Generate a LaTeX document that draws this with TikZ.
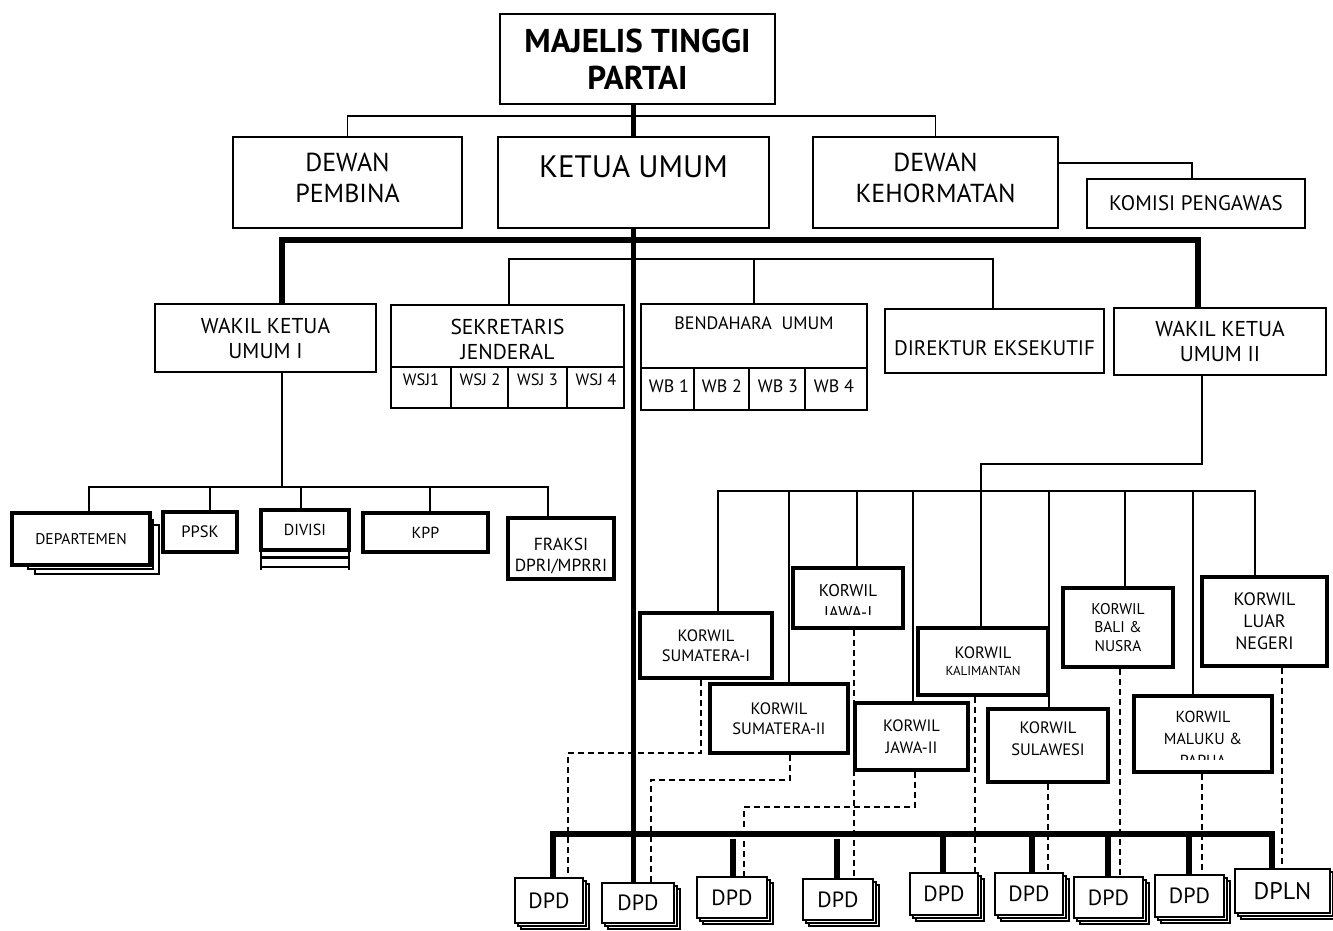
\documentclass[tikz,border=0pt]{standalone}
\usepackage{fontspec}
\setmainfont{PT Sans}
\usetikzlibrary{shadows}
\newcommand{\fs}[2]{\fontsize{#1}{#2}\selectfont}

\tikzset{
  box/.style={draw, line width=1.8pt, fill=white, align=center, inner sep=0pt},
  hbox/.style={draw, line width=4pt, fill=white, align=center, inner sep=0pt},
  link/.style={line width=1.5pt},
  heavy/.style={line width=5.5pt},
  dashlink/.style={line width=1.5pt, dash pattern=on 6pt off 4pt},
  dpd/.style={draw, line width=1.3pt, fill=white, inner sep=0pt, font=\fs{22}{24},
    double copy shadow={shadow xshift=3pt, shadow yshift=-3pt}},
}

\begin{document}
\begin{tikzpicture}[x=1pt, y=-1pt]
\fill[white] (0,0) rectangle (1333,931);
\useasboundingbox (0,0) rectangle (1333,931);

% top level
\node[box, minimum width=275, minimum height=90, font=\bfseries\fs{33}{37}] (mtp) at (637.5,59) {MAJELIS TINGGI\\PARTAI};
\node[box, minimum width=229, minimum height=91] (dp) at (347.5,182.5) {};
\node[font=\fs{26}{31}, align=center] (dptxt) at (347.5,178) {DEWAN\\PEMBINA};
\node[box, minimum width=271, minimum height=91] (ku) at (633.5,182.5) {};
\node[font=\fs{31}{36}] (kutxt) at (633.5,167) {KETUA UMUM};
\node[box, minimum width=245, minimum height=91] (dk) at (935.5,182.5) {};
\node[font=\fs{26}{31}, align=center] (dktxt) at (935.5,178) {DEWAN\\KEHORMATAN};
\node[box, minimum width=218, minimum height=49, font=\fs{21}{24}] (kp) at (1196,203.5) {KOMISI PENGAWAS};

% second level
\node[box, minimum width=221, minimum height=68, font=\fs{21.5}{25}] (wk1) at (265.5,338) {WAKIL KETUA\\UMUM I};
\node[box, minimum width=233, minimum height=103] (sek) at (507.5,356.5) {};
\node[font=\fs{21.5}{25}, align=center] (sektxt) at (507.5,339) {SEKRETARIS\\JENDERAL};
\draw[link] (sek.west |- 0,367) -- (sek.east |- 0,367);
\foreach \x in {451,508,567}
  \draw[link] (\x,367) -- (\x,0 |- sek.south);
\foreach \n/\x/\t in {1/421/WSJ1, 2/480/WSJ 2, 3/537.5/WSJ 3, 4/596/WSJ 4}
  \node[font=\fs{16.5}{18}] (wsj\n) at (\x,380) {\t};
\node[box, minimum width=226, minimum height=106] (ben) at (754,357) {};
\node[font=\fs{18}{20}] (bentxt) at (754,323) {BENDAHARA\ \ UMUM};
\draw[link] (ben.west |- 0,368) -- (ben.east |- 0,368);
\foreach \x in {694,749,805}
  \draw[link] (\x,368) -- (\x,0 |- ben.south);
\foreach \n/\x in {1/669, 2/722, 3/778, 4/834}
  \node[font=\fs{18}{20}] (wb\n) at (\x,386) {WB \n};
\node[box, minimum width=219, minimum height=64] (dir) at (994.5,341) {};
\node[font=\fs{21}{24}] (dirtxt) at (994.5,348) {DIREKTUR EKSEKUTIF};
\node[box, minimum width=212, minimum height=67, font=\fs{21.5}{25}] (wk2) at (1220,341.5) {WAKIL KETUA\\UMUM II};

% bidang under wakil ketua umum I
\draw[line width=1.3pt, fill=white] (35,525) rectangle (159,574);
\draw[line width=1.3pt, fill=white] (28,520) rectangle (153,569);
\node[hbox, minimum width=138, minimum height=52, font=\fs{15.5}{18}] (dep) at (81,539) {DEPARTEMEN};
\node[hbox, minimum width=74, minimum height=40, font=\fs{16.5}{18}] (ppsk) at (200,532) {PPSK};
\node[hbox, minimum width=88, minimum height=40, font=\fs{16}{18}] (div) at (305,530) {DIVISI};
\draw[line width=3pt] (261,557) -- (349,557);
\draw[line width=2pt] (261,567) -- (349,567);
\draw[line width=2pt] (261,550) -- (261,570) (349,550) -- (349,570);
\node[hbox, minimum width=125, minimum height=39, font=\fs{16}{18}] (kpp) at (425.5,532.5) {KPP};
\node[hbox, minimum width=106, minimum height=61] (fr) at (561,548.5) {};
\node[font=\fs{17.5}{21}, align=center] (frtxt) at (561,556) {FRAKSI\\DPRI/MPRRI};

% korwil
\node[hbox, minimum width=132, minimum height=65, font=\fs{16.5}{20}] (k1) at (706,645.5) {KORWIL\\SUMATERA-I};
\node[hbox, minimum width=138, minimum height=69, font=\fs{16.5}{20}] (k2) at (779,718.5) {KORWIL\\SUMATERA-II};
\node[hbox, minimum width=110, minimum height=60] (k3) at (848,598) {};
\begin{scope}
  \clip (795,570) rectangle (901,614);
  \node[font=\fs{17}{22}, align=center] (k3txt) at (848,602) {KORWIL\\JAWA-I};
\end{scope}
\node[hbox, minimum width=113, minimum height=67, font=\fs{16.5}{22}] (k4) at (911.5,736.5) {KORWIL\\JAWA-II};
\node[hbox, minimum width=130, minimum height=67, font=\fs{16.5}{17}] (k5) at (983,661.5) {KORWIL\\{\fs{13}{17}KALIMANTAN}};
\node[hbox, minimum width=120, minimum height=73] (k6) at (1048,745.5) {};
\node[font=\fs{16.5}{22}, align=center] (k6txt) at (1048,739) {KORWIL\\SULAWESI};
\node[hbox, minimum width=110, minimum height=79, font=\fs{15.5}{18.5}] (k7) at (1118,627.5) {KORWIL\\BALI \&\\NUSRA};
\node[hbox, minimum width=138, minimum height=76] (k8) at (1203,734) {};
\begin{scope}
  \clip (1136,698) rectangle (1270,759);
  \node[font=\fs{16}{22}, align=center] (k8txt) at (1203,739) {KORWIL\\MALUKU \&\\PAPUA};
\end{scope}
\node[hbox, minimum width=125, minimum height=89, font=\fs{18}{22}] (k9) at (1264.5,621.5) {KORWIL\\LUAR\\NEGERI};

% dpd
\node[dpd, minimum width=68, minimum height=45] (d1) at (549,900.5) {DPD};
\node[dpd, minimum width=72, minimum height=40] (d2) at (638,903) {DPD};
\node[dpd, minimum width=70, minimum height=41] (d3) at (732,897.5) {DPD};
\node[dpd, minimum width=70, minimum height=41] (d4) at (838,899.5) {DPD};
\node[dpd, minimum width=68, minimum height=42] (d5) at (944,894) {DPD};
\node[dpd, minimum width=68, minimum height=42] (d6) at (1029,894) {DPD};
\node[dpd, minimum width=69, minimum height=41] (d7) at (1108.5,897.5) {DPD};
\node[dpd, minimum width=69, minimum height=42] (d8) at (1189.5,896) {DPD};
\node[dpd, minimum width=95, minimum height=44, font=\fs{24}{26}] (d9) at (1282.5,891) {DPLN};

% garis komando
\coordinate (tbus) at (635,116);
\draw[link] (dp.north) |- (tbus) -| (dk.north);
\draw[link] ([yshift=19.5pt]dk.east) -| ([xshift=-4pt]kp.north);
\draw[heavy] (ku.north |- mtp.south) -- (ku.north);
\draw[heavy] (ku.south) -- (ku.south |- d2.north);

\coordinate (vbusL) at (282,240);
\coordinate (vbusR) at (1198,240);
\draw[heavy] (vbusL |- wk1.north) -- (vbusL) -- (vbusR) -- (vbusR |- wk2.north);

\coordinate (sbusL) at (509,259);
\coordinate (sbusR) at (993,259);
\draw[link] (sbusL |- sek.north) -- (sbusL) -- (sbusR) -- (sbusR |- dir.north);
\draw[link] (ben.north) -- (ben.north |- sbusL);

\coordinate (lbusL) at (89,487);
\coordinate (lbusR) at (548,487);
\draw[link] (vbusL |- wk1.south) -- (vbusL |- lbusL);
\draw[link] (lbusL |- dep.north) -- (lbusL) -- (lbusR) -- (lbusR |- fr.north);
\foreach \n/\x in {ppsk/210, div/301, kpp/430}
  \draw[link] (\x,0 |- lbusL) -- (\x,0 |- \n.north);

\coordinate (ktop) at (981,464);
\coordinate (kbusL) at (718,491);
\coordinate (kbusR) at (1255,491);
\draw[link] ([xshift=-18pt]wk2.south) |- (ktop) -- (ktop |- kbusL);
\draw[link] (kbusL |- k1.north) -- (kbusL) -- (kbusR) -- (kbusR |- k9.north);
\foreach \n/\x in {k2/789, k3/857, k4/913, k5/981, k6/1049, k7/1125, k8/1193}
  \draw[link] (\x,0 |- kbusL) -- (\x,0 |- \n.north);

% koordinasi korwil - dpd
\coordinate (j1) at (568,753);
\coordinate (j2) at (651,780);
\coordinate (j4) at (744,807);
\draw[dashlink] ([xshift=-5pt]k1.south) |- (j1) -- (j1 |- d1.north);
\draw[dashlink] ([xshift=11pt]k2.south) |- (j2) -- (j2 |- d2.north);
\draw[dashlink] ([xshift=3.5pt]k4.south) |- (j4) -- (j4 |- d3.north);
\draw[dashlink] ([xshift=6pt]k3.south) -- ([xshift=6pt]k3.south |- d4.north);
\draw[dashlink] ([xshift=-8pt]k5.south) -- ([xshift=-8pt]k5.south |- d5.north);
\draw[dashlink] (k6.south) -- (k6.south |- d6.north);
\draw[dashlink] ([xshift=2pt]k7.south) -- ([xshift=2pt]k7.south |- d7.north);
\draw[dashlink] ([xshift=-1pt]k8.south) -- ([xshift=-1pt]k8.south |- d8.north);
\draw[dashlink] ([xshift=17.5pt]k9.south) -- ([xshift=17.5pt]k9.south |- d9.north);

% garis dpd
\coordinate (dbusL) at (553,834);
\coordinate (dbusR) at (1272,834);
\draw[heavy] (dbusL |- d1.north) -- (dbusL) -- (dbusR) -- (dbusR |- d9.north);
\foreach \n/\x in {d3/733, d4/837}
  \draw[heavy] (\x,839) -- (\x,0 |- \n.north);
\foreach \n/\x in {d5/943, d6/1032, d7/1108, d8/1189}
  \draw[heavy] (\x,0 |- dbusL) -- (\x,0 |- \n.north);
\end{tikzpicture}
\end{document}
